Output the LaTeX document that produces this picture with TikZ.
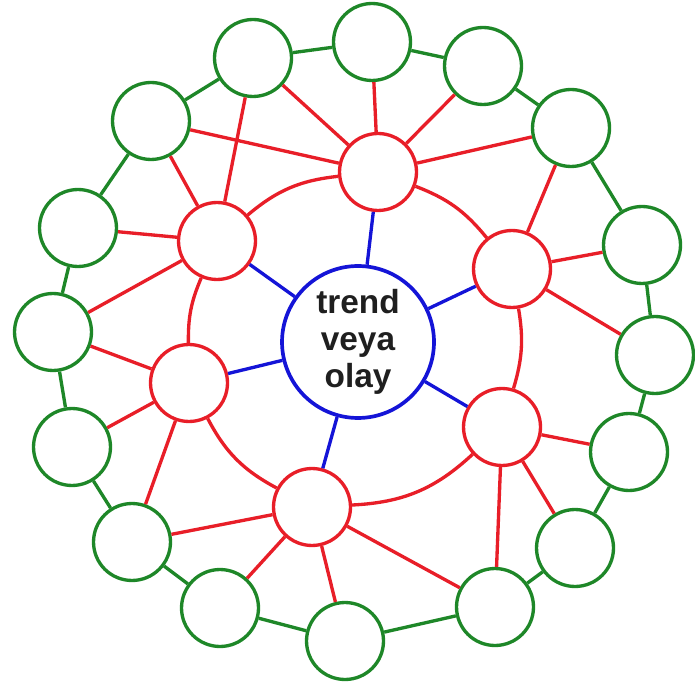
\documentclass[tikz,border=0pt]{standalone}
\usepackage{fontspec}
\setmainfont{Liberation Sans}
\usepackage{xcolor}
\usepackage{tikz}
\usetikzlibrary{positioning}

\definecolor{ringgreen}{RGB}{30,135,40}
\definecolor{linkred}{RGB}{232,30,40}
\definecolor{hubblue}{RGB}{20,20,215}

\begin{document}
\begin{tikzpicture}[
    x=0.02cm, y=0.02cm,
    outer/.style={draw=ringgreen, circle, line width=1.9pt, fill=white,
                  minimum size=1.54cm, inner sep=0pt},
    inner/.style={draw=linkred, circle, line width=1.9pt, fill=white,
                  minimum size=1.54cm, inner sep=0pt},
    hub/.style={draw=hubblue, circle, line width=2.1pt, fill=white,
                minimum size=3.04cm, inner sep=0pt, align=center,
                font=\fontsize{19}{21}\selectfont\bfseries, text=black!88},
    ring/.style={draw=ringgreen, line width=1.9pt},
    link/.style={draw=linkred, line width=1.9pt},
    spoke/.style={draw=hubblue, line width=1.9pt}
]
\useasboundingbox (0,0) rectangle (695,-688);

% Hub
\node[hub] (core) at (358,-342) {trend\\veya\\olay};

% Inner ring
\node[inner] (i1) at (378,-172) {};
\node[inner] (i2) at (217,-241) {};
\node[inner] (i3) at (512,-269) {};
\node[inner] (i4) at (189,-383) {};
\node[inner] (i5) at (502,-427) {};
\node[inner] (i6) at (312,-507) {};

% Outer ring
\node[outer] (o1) at (372,-42) {};
\node[outer] (o2) at (253,-58) {};
\node[outer] (o3) at (483,-66) {};
\node[outer] (o4) at (151,-121) {};
\node[outer] (o5) at (571,-128) {};
\node[outer] (o6) at (78,-228) {};
\node[outer] (o7) at (642,-245) {};
\node[outer] (o8) at (53,-332) {};
\node[outer] (o9) at (655,-355) {};
\node[outer] (o10) at (72,-447) {};
\node[outer] (o11) at (629,-452) {};
\node[outer] (o12) at (132,-542) {};
\node[outer] (o13) at (575,-548) {};
\node[outer] (o14) at (220,-608) {};
\node[outer] (o15) at (495,-607) {};
\node[outer] (o16) at (345,-641) {};

% Green ring
\draw[ring] (o1) -- (o3) -- (o5) -- (o7) -- (o9) -- (o11) -- (o13) -- (o15)
  -- (o16) -- (o14) -- (o12) -- (o10) -- (o8) -- (o6) -- (o4) -- (o2) -- (o1);

% Spokes from the hub
\draw[spoke] (core) -- (i1);
\draw[spoke] (core) -- (i2);
\draw[spoke] (core) -- (i3);
\draw[spoke] (core) -- (i4);
\draw[spoke] (core) -- (i5);
\draw[spoke] (core) -- (i6);

% Red arcs between inner nodes
\draw[link] (i1) to[bend left=15] (i3);
\draw[link] (i3) to[bend left=13] (i5);
\draw[link] (i5) to[bend left=20] (i6);
\draw[link] (i6) to[bend left=17] (i4);
\draw[link] (i4) to[bend left=12] (i2);
\draw[link] (i2) to[bend left=17] (i1);

% Red links to the outer ring
\draw[link] (i1) -- (o1);
\draw[link] (i1) -- (o2);
\draw[link] (i1) -- (o3);
\draw[link] (i1) -- (o4);
\draw[link] (i1) -- (o5);
\draw[link] (i2) -- (o2);
\draw[link] (i2) -- (o4);
\draw[link] (i2) -- (o6);
\draw[link] (i2) -- (o8);
\draw[link] (i3) -- (o5);
\draw[link] (i3) -- (o7);
\draw[link] (i3) -- (o9);
\draw[link] (i4) -- (o8);
\draw[link] (i4) -- (o10);
\draw[link] (i4) -- (o12);
\draw[link] (i5) -- (o11);
\draw[link] (i5) -- (o13);
\draw[link] (i5) -- (o15);
\draw[link] (i6) -- (o12);
\draw[link] (i6) -- (o14);
\draw[link] (i6) -- (o15);
\draw[link] (i6) -- (o16);

\end{tikzpicture}
\end{document}
